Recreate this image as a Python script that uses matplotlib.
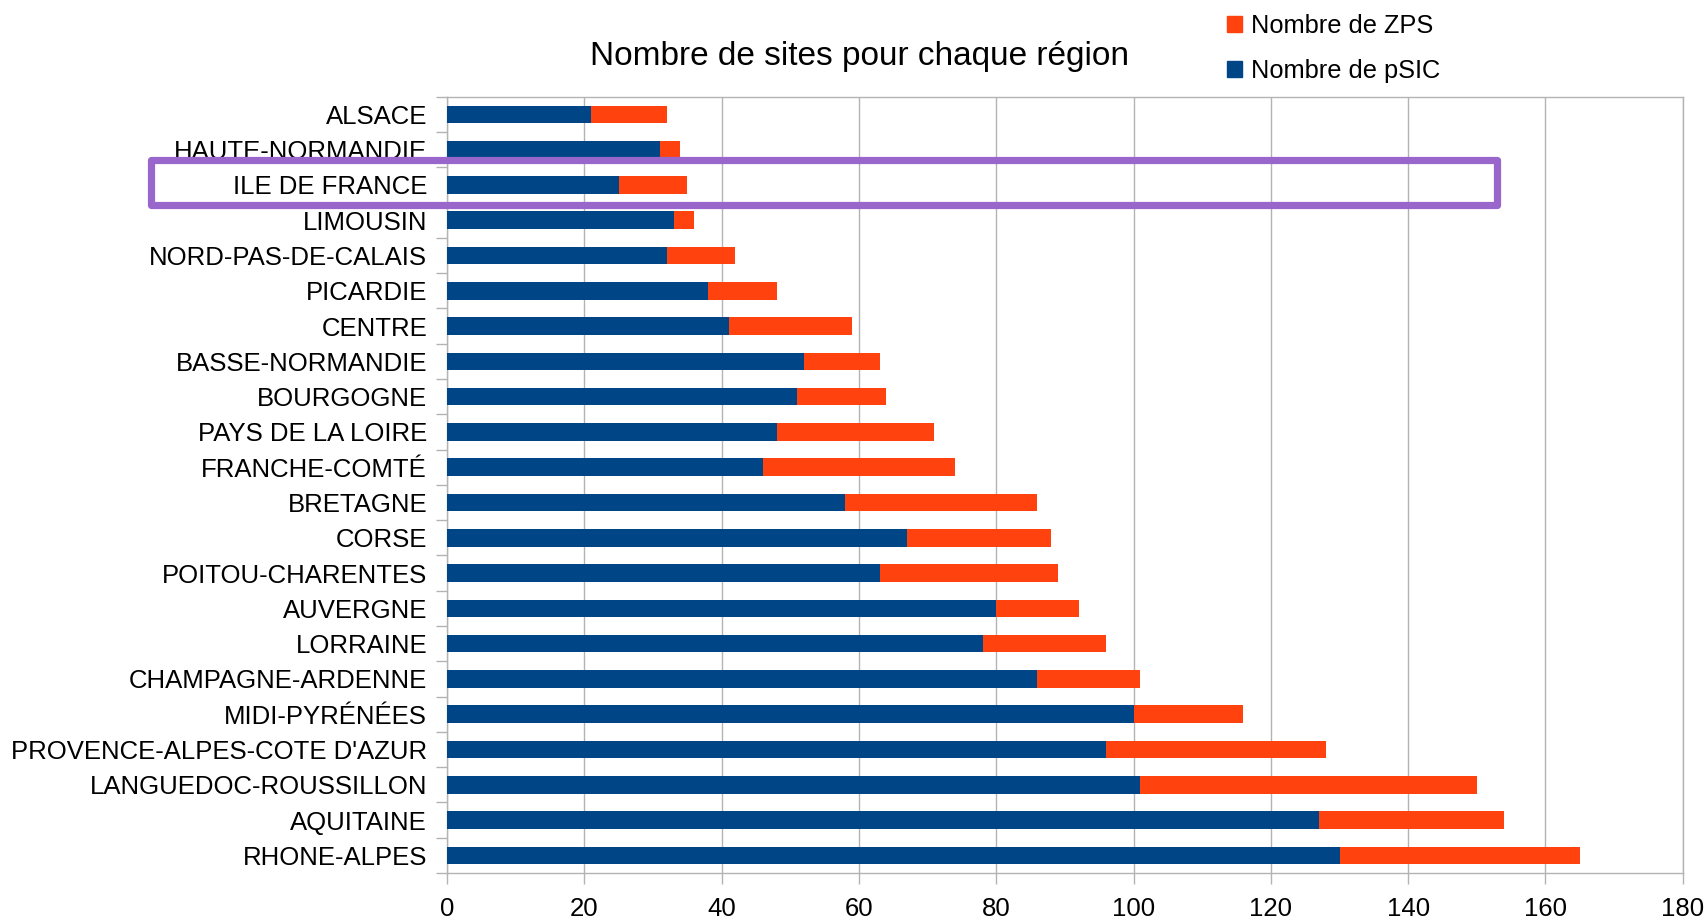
import matplotlib
matplotlib.use("Agg")
import matplotlib.pyplot as plt
import matplotlib.transforms as mtransforms
from matplotlib.patches import Rectangle, Patch
import numpy as np

plt.rcParams['font.family'] = ['Liberation Sans', 'DejaVu Sans']

regions = ["ALSACE", "HAUTE-NORMANDIE", "ILE DE FRANCE", "LIMOUSIN",
           "NORD-PAS-DE-CALAIS", "PICARDIE", "CENTRE", "BASSE-NORMANDIE",
           "BOURGOGNE", "PAYS DE LA LOIRE", "FRANCHE-COMTÉ", "BRETAGNE",
           "CORSE", "POITOU-CHARENTES", "AUVERGNE", "LORRAINE",
           "CHAMPAGNE-ARDENNE", "MIDI-PYRÉNÉES", "PROVENCE-ALPES-COTE D'AZUR",
           "LANGUEDOC-ROUSSILLON", "AQUITAINE", "RHONE-ALPES"]
psic = [21, 31, 25, 33, 32, 38, 41, 52, 51, 48, 46, 58, 67, 63, 80, 78, 86,
        100, 96, 101, 127, 130]
zps = [11, 3, 10, 3, 10, 10, 18, 11, 13, 23, 28, 28, 21, 26, 12, 18, 15,
       16, 32, 49, 27, 35]
x_ticks = [0, 20, 40, 60, 80, 100, 120, 140, 160, 180]
highlight = "ILE DE FRANCE"

blue = '#004586'
red = '#ff420e'
grid_col = '#b3b3b3'
fs = 18.5

fig = plt.figure(figsize=(17.07, 9.22), dpi=100)
ax = fig.add_axes([0.2619, 0.0531, 0.9858 - 0.2619, 0.8951 - 0.0531])

y = np.arange(len(regions))
ax.barh(y, psic, height=0.5, color=blue, zorder=3)
ax.barh(y, zps, left=psic, height=0.5, color=red, zorder=3)

ax.set_xlim(0, 180)
ax.set_ylim(len(regions) - 0.5, -0.5)
ax.set_xticks(x_ticks)
ax.set_xticklabels([str(t) for t in x_ticks], fontsize=fs)
ax.set_yticks(y)
ax.set_yticklabels(regions, fontsize=fs)
ax.set_yticks(np.arange(len(regions) + 1) - 0.5, minor=True)

ax.tick_params(axis='y', which='major', length=0, pad=14.4)
ax.tick_params(axis='y', which='minor', length=8, color=grid_col, width=1)
ax.tick_params(axis='x', which='major', length=8, color=grid_col, width=1, pad=9.5)
ax.xaxis.grid(True, color=grid_col, linewidth=1, zorder=0)
ax.set_axisbelow(True)
for s in ax.spines.values():
    s.set_color(grid_col)
    s.set_linewidth(1)

fig.text(0.5038, 1 - 56 / 922, "Nombre de sites pour chaque région",
         fontsize=24, ha='center', va='center')

handles = [Patch(color=red, label="Nombre de ZPS"),
           Patch(color=blue, label="Nombre de pSIC")]
fig.legend(handles=handles, loc='upper left',
           bbox_to_anchor=(1222 / 1707, 1 - 9 / 922), frameon=False,
           fontsize=18.3, handlelength=0.6, handleheight=0.6,
           handletextpad=0.35, labelspacing=0.82, borderaxespad=0,
           borderpad=0.2)

# highlight box around one region row
idx = regions.index(highlight)
trans = mtransforms.blended_transform_factory(ax.transAxes, ax.transData)
box = Rectangle((-0.2393, idx - 0.72), 0.8495 + 0.2393, 1.30, transform=trans,
                fill=False, edgecolor='#9966cc', linewidth=5.2,
                joinstyle='round', clip_on=False, zorder=5)
ax.add_patch(box)

fig.savefig("out.png", dpi=100)
